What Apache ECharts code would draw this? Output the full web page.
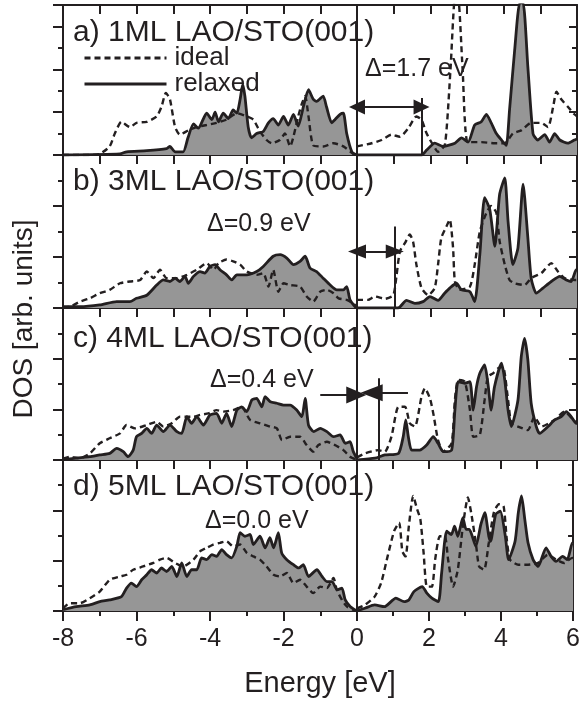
<!DOCTYPE html>
<html>
<head>
<meta charset="utf-8">
<script src="https://cdn.jsdelivr.net/npm/echarts@6/dist/echarts.min.js"></script>
<style>
html, body { margin: 0; padding: 0; background: #fff; }
#chart { width: 583px; height: 704px; }
</style>
</head>
<body>
<div id="chart"></div>
<script>
// DOS curves, [energy eV, DOS in tick units]; VB = -8..0, CB = 0..6
// a) 1ML
var aIdealVB = [[-8,0],[-7.3,0],[-7.0,0.05],[-6.73,0.4],[-6.59,1.0],[-6.41,1.55],[-6.18,1.3],[-6.0,1.5],[-5.72,1.55],[-5.45,1.8],[-5.32,2.25],[-5.2,2.9],[-5.09,2.6],[-4.95,1.3],[-4.82,0.95],[-4.59,1.15],[-4.37,1.3],[-4.09,1.4],[-3.82,1.5],[-3.55,1.65],[-3.27,1.95],[-3.0,1.8],[-2.82,1.65],[-2.64,1.1],[-2.46,0.7],[-2.32,0.55],[-2.1,0.7],[-1.96,1.0],[-1.82,0.4],[-1.73,0.85],[-1.6,1.8],[-1.5,2.4],[-1.41,2.75],[-1.32,1.8],[-1.19,0.45],[-0.92,0.4],[-0.64,0.55],[-0.37,0.4],[-0.1,0.05],[0,0]];
var aRelaxVB = [[-8,0],[-6.45,0.05],[-6.27,0.15],[-5.72,0.2],[-5.18,0.3],[-5.09,0.4],[-4.95,0.15],[-4.73,0.15],[-4.6,0.8],[-4.45,1.45],[-4.32,1.25],[-4.09,1.95],[-3.95,1.65],[-3.86,2.0],[-3.77,1.55],[-3.64,1.95],[-3.5,1.7],[-3.37,2.1],[-3.27,1.95],[-3.18,2.6],[-3.11,3.3],[-3.05,2.75],[-2.96,1.3],[-2.87,0.8],[-2.73,1.0],[-2.55,1.1],[-2.41,1.5],[-2.28,1.7],[-2.14,1.4],[-2.0,1.8],[-1.87,1.4],[-1.73,1.9],[-1.6,1.35],[-1.46,2.25],[-1.32,3.05],[-1.19,2.6],[-1.1,2.5],[-0.92,2.75],[-0.83,2.25],[-0.69,1.5],[-0.6,1.65],[-0.46,1.9],[-0.37,1.95],[-0.28,1.0],[-0.14,0.15],[0,0]];
var aIdealCB = [[0,0.4],[0.4,0.55],[0.67,0.7],[0.94,0.95],[1.17,0.85],[1.4,1.25],[1.62,1.8],[1.76,1.65],[1.9,1.0],[2.08,0.45],[2.21,0.15],[2.4,0.5],[2.55,4.0],[2.68,7.5],[2.75,7.5],[2.88,4.0],[3.02,0.6],[3.39,0.6],[3.75,0.55],[4.03,0.55],[4.25,1.0],[4.48,1.15],[4.75,1.5],[5.03,1.5],[5.21,1.3],[5.35,2.25],[5.44,2.95],[5.57,2.6],[5.75,2.25],[5.93,1.9],[6,1.8]];
var aRelaxCB = [[0,0],[1.76,0],[1.9,0.23],[2.12,0.55],[2.35,0.4],[2.67,0.55],[2.85,0.8],[3.03,0.6],[3.21,1.4],[3.39,1.55],[3.53,1.9],[3.66,1.5],[3.8,1.0],[3.94,0.7],[4.07,0.45],[4.16,2.1],[4.3,4.9],[4.44,7.1],[4.53,7.1],[4.66,4.1],[4.8,1.0],[4.93,0.7],[5.12,0.95],[5.25,0.6],[5.39,1.0],[5.53,0.7],[5.75,0.55],[5.93,0.7],[6,0.75]];
// b) 3ML
var bIdealVB = [[-8,0.02],[-7.81,0.05],[-7.54,0.25],[-7.27,0.38],[-7.0,0.58],[-6.73,0.71],[-6.45,0.97],[-6.18,1.04],[-5.9,1.1],[-5.72,1.43],[-5.54,1.17],[-5.36,1.5],[-5.18,1.17],[-4.9,1.17],[-4.63,1.3],[-4.36,1.5],[-4.09,1.76],[-3.9,1.5],[-3.77,1.76],[-3.55,1.9],[-3.37,1.83],[-3.18,1.7],[-3.0,1.43],[-2.73,1.3],[-2.55,1.37],[-2.41,0.84],[-2.28,1.5],[-2.14,0.64],[-2.0,0.97],[-1.82,0.9],[-1.55,0.84],[-1.37,0.45],[-1.19,0.25],[-1.0,0.64],[-0.82,0.71],[-0.64,0.58],[-0.5,0.38],[-0.28,0.32],[-0.1,0.18],[0,0.05]];
var bRelaxVB = [[-8,0.05],[-7.54,0.05],[-7.0,0.12],[-6.54,0.25],[-6.18,0.25],[-6.0,0.38],[-5.72,0.5],[-5.45,0.9],[-5.27,1.1],[-5.09,1.04],[-4.95,1.17],[-4.82,1.04],[-4.68,1.24],[-4.59,0.97],[-4.45,1.24],[-4.27,1.43],[-4.14,1.37],[-4.0,1.63],[-3.86,1.7],[-3.73,1.5],[-3.55,1.3],[-3.41,1.1],[-3.27,1.3],[-3.0,1.3],[-2.73,1.43],[-2.55,1.63],[-2.28,2.03],[-2.09,2.09],[-1.91,1.96],[-1.73,1.7],[-1.55,1.83],[-1.41,2.03],[-1.28,1.57],[-1.1,1.43],[-0.92,1.17],[-0.73,0.9],[-0.55,0.71],[-0.37,0.71],[-0.28,0.84],[-0.19,0.32],[-0.05,0.05],[0,0]];
var bIdealCB = [[0,0.32],[0.3,0.32],[0.49,0.45],[0.76,0.36],[0.99,0.5],[1.08,1.3],[1.17,2.22],[1.31,2.55],[1.44,2.88],[1.53,2.6],[1.62,1.7],[1.76,0.78],[1.94,0.5],[2.12,0.78],[2.21,1.7],[2.3,2.75],[2.44,3.2],[2.53,3.47],[2.62,2.36],[2.67,1.04],[2.8,0.71],[3.08,0.84],[3.21,1.7],[3.35,3.0],[3.53,3.74],[3.66,4.0],[3.8,3.74],[3.89,2.62],[4.03,1.7],[4.16,1.1],[4.3,0.97],[4.57,0.9],[4.75,1.17],[5.03,1.37],[5.3,1.76],[5.48,1.43],[5.66,1.17],[5.93,1.1],[6,1.1]];
var bRelaxCB = [[0,0],[1.12,0],[1.35,0.3],[1.58,0.18],[1.8,0.25],[1.99,0.45],[2.21,0.3],[2.39,0.58],[2.53,0.78],[2.71,0.97],[2.85,0.71],[3.08,0.64],[3.21,0.25],[3.35,2.1],[3.48,4.33],[3.62,3.87],[3.76,2.42],[3.89,4.46],[4.03,5.1],[4.12,3.4],[4.25,1.7],[4.39,2.36],[4.53,4.86],[4.66,2.75],[4.75,1.17],[4.89,0.58],[5.07,0.78],[5.3,1.04],[5.53,1.24],[5.71,1.1],[5.84,1.04],[5.98,1.5],[6,1.5]];
// c) 4ML
var cIdealVB = [[-8,0.05],[-7.82,0.13],[-7.54,0.07],[-7.27,0.26],[-7.0,0.66],[-6.73,0.86],[-6.45,1.05],[-6.27,1.38],[-6.04,1.25],[-5.72,1.38],[-5.45,1.51],[-5.27,1.32],[-5.04,1.45],[-4.82,1.71],[-4.63,1.71],[-4.45,1.71],[-4.27,1.78],[-4.04,1.84],[-3.82,1.97],[-3.64,1.91],[-3.37,1.97],[-3.14,2.1],[-2.91,1.58],[-2.64,1.45],[-2.37,1.32],[-2.18,1.25],[-2.04,0.79],[-1.82,0.92],[-1.55,0.92],[-1.37,0.59],[-1.19,0.33],[-1.05,0.59],[-0.82,0.72],[-0.6,0.59],[-0.37,0.39],[-0.19,0.13],[0,0]];
var cRelaxVB = [[-8,0.02],[-7.64,0.07],[-7.27,0.13],[-7.0,0.2],[-6.73,0.26],[-6.54,0.46],[-6.36,0.33],[-6.23,0.13],[-6.09,0.39],[-6.0,0.92],[-5.86,1.05],[-5.72,1.25],[-5.59,1.05],[-5.45,1.38],[-5.27,1.12],[-5.09,1.38],[-4.9,1.12],[-4.77,1.05],[-4.63,1.71],[-4.5,1.45],[-4.36,1.71],[-4.18,1.38],[-4.0,1.78],[-3.82,1.84],[-3.68,1.45],[-3.55,1.84],[-3.41,1.32],[-3.27,1.97],[-3.14,2.1],[-3.0,1.91],[-2.86,2.37],[-2.73,2.43],[-2.59,2.1],[-2.5,2.5],[-2.36,2.3],[-2.18,2.24],[-2.0,2.17],[-1.82,2.17],[-1.64,1.97],[-1.5,1.71],[-1.41,2.43],[-1.32,1.38],[-1.18,1.12],[-1.0,1.25],[-0.82,1.12],[-0.64,0.92],[-0.46,0.99],[-0.32,0.66],[-0.19,0.72],[-0.1,0.33],[0,0.05]];
var cIdealCB = [[0,0.1],[0.22,0.26],[0.58,0.39],[0.76,0.33],[0.94,0.92],[1.13,2.1],[1.31,2.1],[1.44,1.45],[1.58,1.32],[1.76,2.5],[1.85,2.83],[1.99,2.43],[2.08,1.84],[2.21,0.79],[2.35,0.33],[2.58,0.66],[2.67,2.37],[2.76,3.16],[2.94,3.09],[3.08,1.97],[3.17,0.92],[3.35,0.99],[3.48,2.37],[3.57,3.29],[3.71,3.42],[3.85,3.62],[3.98,3.68],[4.12,2.37],[4.21,1.45],[4.39,1.32],[4.66,1.18],[4.84,1.71],[5.03,1.32],[5.39,1.58],[5.66,1.91],[5.98,1.5],[6,1.5]];
var cRelaxCB = [[0,0],[0.49,0.07],[0.76,0.2],[1.13,0.26],[1.26,0.92],[1.33,1.58],[1.4,0.92],[1.49,0.39],[1.71,0.39],[1.9,0.59],[2.08,0.92],[2.21,0.66],[2.35,0.33],[2.58,0.39],[2.67,1.97],[2.76,3.09],[2.94,3.03],[3.08,3.09],[3.17,1.97],[3.26,2.89],[3.35,3.42],[3.48,3.75],[3.57,3.03],[3.66,1.97],[3.75,2.89],[3.94,3.82],[4.03,3.16],[4.12,1.97],[4.21,1.32],[4.39,2.37],[4.48,4.08],[4.57,4.8],[4.66,3.95],[4.75,2.24],[4.89,1.32],[4.98,1.05],[5.21,1.32],[5.39,1.58],[5.57,1.71],[5.71,1.91],[5.84,1.71],[5.98,1.45],[6,1.45]];
// d) 5ML
var dIdealVB = [[-8,0.1],[-7.82,0.31],[-7.54,0.31],[-7.27,0.51],[-7.0,0.77],[-6.73,1.24],[-6.45,1.37],[-6.27,1.44],[-6.09,1.64],[-5.82,1.77],[-5.54,1.91],[-5.36,2.04],[-5.18,2.11],[-4.95,1.91],[-4.73,1.77],[-4.45,2.04],[-4.27,2.37],[-4.09,2.51],[-3.91,2.64],[-3.73,2.71],[-3.55,2.77],[-3.37,2.57],[-3.18,2.64],[-3.0,2.31],[-2.82,2.17],[-2.64,2.04],[-2.46,1.77],[-2.27,1.44],[-2.09,1.37],[-1.91,1.51],[-1.73,1.11],[-1.55,1.24],[-1.37,0.97],[-1.19,0.71],[-1.0,0.97],[-0.82,0.91],[-0.64,1.31],[-0.55,0.84],[-0.41,0.44],[-0.27,0.17],[-0.1,0.04],[0,0]];
var dRelaxVB = [[-8,0.05],[-7.64,0.17],[-7.27,0.24],[-7.0,0.37],[-6.73,0.44],[-6.41,0.57],[-6.27,0.91],[-6.14,1.11],[-6.0,0.97],[-5.86,1.24],[-5.72,1.44],[-5.59,1.64],[-5.45,1.51],[-5.32,1.71],[-5.18,1.57],[-5.04,1.77],[-4.9,1.37],[-4.77,1.91],[-4.63,1.37],[-4.5,1.64],[-4.36,1.64],[-4.23,2.11],[-4.09,2.04],[-3.95,2.24],[-3.82,2.17],[-3.68,2.44],[-3.55,2.24],[-3.41,2.11],[-3.27,2.57],[-3.18,3.11],[-3.05,2.97],[-2.91,3.04],[-2.82,2.64],[-2.64,2.97],[-2.5,2.51],[-2.37,2.91],[-2.27,2.51],[-2.14,3.11],[-2.05,2.31],[-1.91,2.04],[-1.73,1.84],[-1.59,1.71],[-1.46,1.84],[-1.32,1.37],[-1.09,1.64],[-0.95,1.37],[-0.82,1.17],[-0.68,1.17],[-0.54,0.84],[-0.41,0.91],[-0.32,0.44],[-0.18,0.17],[0,0]];
var dIdealCB = [[0,0.1],[0.22,0.24],[0.49,0.57],[0.67,1.11],[0.85,2.17],[1.03,3.17],[1.17,3.51],[1.26,2.37],[1.35,2.17],[1.44,3.37],[1.56,4.57],[1.67,4.04],[1.76,3.64],[1.85,2.31],[1.94,0.97],[2.08,0.97],[2.17,2.04],[2.3,2.97],[2.44,2.97],[2.53,2.04],[2.67,0.97],[2.8,1.64],[2.94,3.37],[3.08,4.51],[3.17,3.91],[3.3,2.71],[3.39,1.77],[3.53,1.64],[3.66,2.71],[3.8,3.91],[3.94,4.24],[4.07,4.17],[4.16,2.84],[4.25,2.04],[4.48,1.84],[4.75,1.84],[5.03,1.91],[5.3,2.24],[5.53,2.04],[5.75,1.91],[5.98,2.11],[6,2.1]];
var dRelaxCB = [[0,0],[0.22,0.11],[0.49,0.24],[0.76,0.17],[1.08,0.51],[1.31,0.37],[1.44,0.44],[1.58,0.77],[1.81,0.97],[1.94,0.71],[2.08,0.51],[2.26,0.37],[2.35,1.51],[2.49,3.17],[2.62,3.04],[2.71,3.37],[2.8,2.97],[2.94,3.71],[3.03,3.24],[3.12,3.24],[3.3,2.57],[3.44,3.44],[3.55,3.91],[3.66,2.97],[3.71,2.77],[3.85,3.84],[3.98,3.97],[4.12,2.97],[4.21,2.04],[4.39,2.77],[4.48,3.91],[4.57,4.57],[4.66,3.64],[4.75,2.71],[4.89,2.04],[5.03,1.77],[5.25,2.51],[5.39,2.17],[5.53,1.97],[5.71,2.17],[5.84,2.04],[5.98,2.71],[6,2.7]];

var panelNames = ['a) 1ML LAO/STO(001)', 'b) 3ML LAO/STO(001)', 'c) 4ML LAO/STO(001)', 'd) 5ML LAO/STO(001)'];
var gapLabels = ['\u0394=1.7 eV', '\u0394=0.9 eV', '\u0394=0.4 eV', '\u0394=0.0 eV'];
var yMax = [7, 6, 6, 6];

var idealSets = [[aIdealVB, aIdealCB], [bIdealVB, bIdealCB], [cIdealVB, cIdealCB], [dIdealVB, dIdealCB]];
var relaxSets = [[aRelaxVB, aRelaxCB], [bRelaxVB, bRelaxCB], [cRelaxVB, cRelaxCB], [dRelaxVB, dRelaxCB]];

// layout (px)
var plotLeft = 63, plotZero = 357, plotRight = 577;
var panelTop = [5, 155, 308, 460];
var panelBottom = [155, 308, 460, 611];
var nameY = [33, 182, 339, 487];
var gapX = [365, 207, 210, 205];
var gapY = [69, 224, 380, 521];

var ink = '#231f20';
var fill = '#969696';
var font = '"Liberation Sans", Arial, Helvetica, sans-serif';
var frame = { color: ink, width: 2 };

var chart = echarts.init(document.getElementById('chart'));

// gap arrows per grid index (markLine, data coordinates)
function arrowLine(from, to, headFrom, headTo, size) {
    return [
        { coord: from, symbol: headFrom ? 'triangle' : 'none', symbolSize: size },
        { coord: to, symbol: headTo ? 'triangle' : 'none', symbolSize: size }
    ];
}
var marks = {
    1: [arrowLine([0, 2.24], [1.76, 2.24], true, true, [15, 16]),
        arrowLine([1.76, 0], [1.76, 2.66], false, false, 1)],
    3: [arrowLine([0, 2.22], [1.03, 2.22], true, true, [14, 18]),
        arrowLine([1.03, 0], [1.03, 3.2], false, false, 1)],
    4: [arrowLine([-1.0, 2.57], [-0.02, 2.57], false, true, [17, 20])],
    5: [arrowLine([1.39, 2.65], [0.4, 2.65], false, true, [17, 22]),
        arrowLine([0.58, 0], [0.58, 3.23], false, false, 1)]
};

var grid = [], xAxis = [], yAxis = [], series = [], graphic = [];

for (var g = 0; g < 8; g++) {
    var p = Math.floor(g / 2), side = g % 2;
    var lo = side ? 0 : -8, hi = side ? 6 : 0;
    var last = p === 3;
    grid.push({
        left: side ? plotZero : plotLeft,
        width: side ? plotRight - plotZero : plotZero - plotLeft,
        top: panelTop[p],
        height: panelBottom[p] - panelTop[p]
    });
    // bottom axis (data axis, labels only on the last row)
    xAxis.push({
        gridIndex: g, type: 'value', min: lo, max: hi, interval: 2, position: 'bottom',
        axisLine: { show: true, onZero: false, lineStyle: frame },
        axisTick: { show: last, length: 10, lineStyle: frame },
        minorTick: { show: last, splitNumber: 2, length: 5, lineStyle: frame },
        axisLabel: {
            show: last, margin: 16, fontSize: 25, color: ink, fontFamily: font,
            showMinLabel: side === 0
        },
        splitLine: { show: false }
    });
    // top axis, ticks pointing into the panel
    xAxis.push({
        gridIndex: g, type: 'value', min: lo, max: hi, interval: 1, position: 'top',
        axisLine: { show: true, onZero: false, lineStyle: frame },
        axisTick: { show: true, inside: true, length: 9, lineStyle: frame },
        axisLabel: { show: false },
        splitLine: { show: false }
    });
    yAxis.push({
        gridIndex: g, type: 'value', min: 0, max: yMax[p], interval: 2, position: 'left',
        axisLine: { show: true, onZero: false, lineStyle: frame },
        axisTick: { show: side === 0, length: 10, lineStyle: frame },
        minorTick: { show: side === 0, splitNumber: 2, length: 5, lineStyle: frame },
        axisLabel: { show: false },
        splitLine: { show: false }
    });
    yAxis.push({
        gridIndex: g, type: 'value', min: 0, max: yMax[p], interval: 2, position: 'right',
        axisLine: { show: true, onZero: false, lineStyle: frame },
        axisTick: { show: side === 1, inside: true, length: 8, lineStyle: frame },
        minorTick: { show: side === 1, splitNumber: 2, length: 5, lineStyle: frame },
        axisLabel: { show: false },
        splitLine: { show: false }
    });

    var relaxed = {
        type: 'line', name: 'relaxed', xAxisIndex: 2 * g, yAxisIndex: 2 * g,
        data: relaxSets[p][side], symbol: 'none', smooth: 0.2,
        lineStyle: { color: ink, width: 2.8 },
        itemStyle: { color: ink },
        areaStyle: { color: fill, opacity: 1 },
        z: 2
    };
    if (marks[g]) {
        relaxed.markLine = {
            silent: true,
            label: { show: false },
            lineStyle: { color: ink, width: 2, type: 'solid' },
            emphasis: { disabled: true },
            data: marks[g]
        };
    }
    series.push(relaxed);
    series.push({
        type: 'line', name: 'ideal', xAxisIndex: 2 * g, yAxisIndex: 2 * g,
        data: idealSets[p][side], symbol: 'none', smooth: 0.2,
        lineStyle: { color: ink, width: 2.4, type: [6, 4] },
        itemStyle: { color: ink },
        z: 3
    });
}

for (var i = 0; i < 4; i++) {
    graphic.push({
        type: 'text', x: 73, y: nameY[i], z: 10,
        style: { text: panelNames[i], fill: ink, font: '30px ' + font, verticalAlign: 'middle' }
    });
    graphic.push({
        type: 'text', x: gapX[i], y: gapY[i], z: 10,
        style: { text: gapLabels[i], fill: ink, font: '25px ' + font, verticalAlign: 'middle' }
    });
}
graphic.push({
    type: 'text', x: 320, y: 684,
    style: { text: 'Energy [eV]', fill: ink, font: '29px ' + font, align: 'center', verticalAlign: 'middle' }
});
graphic.push({
    type: 'text', x: 24, y: 319, rotation: Math.PI / 2,
    style: { text: 'DOS [arb. units]', fill: ink, font: '28px ' + font, align: 'center', verticalAlign: 'middle' }
});

var option = {
    animation: false,
    backgroundColor: '#fff',
    textStyle: { fontFamily: font },
    grid: grid,
    xAxis: xAxis,
    yAxis: yAxis,
    legend: {
        data: ['ideal', 'relaxed'],
        orient: 'vertical', left: 83, top: 45, padding: 0,
        itemWidth: 82, itemHeight: 14, itemGap: 0,
        selectedMode: false,
        itemStyle: { opacity: 0 },
        lineStyle: { width: 3 },
        textStyle: { fontSize: 26, color: ink, fontFamily: font, lineHeight: 26, padding: [0, 0, 0, 3] }
    },
    graphic: graphic,
    series: series
};
chart.setOption(option);
</script>
</body>
</html>
